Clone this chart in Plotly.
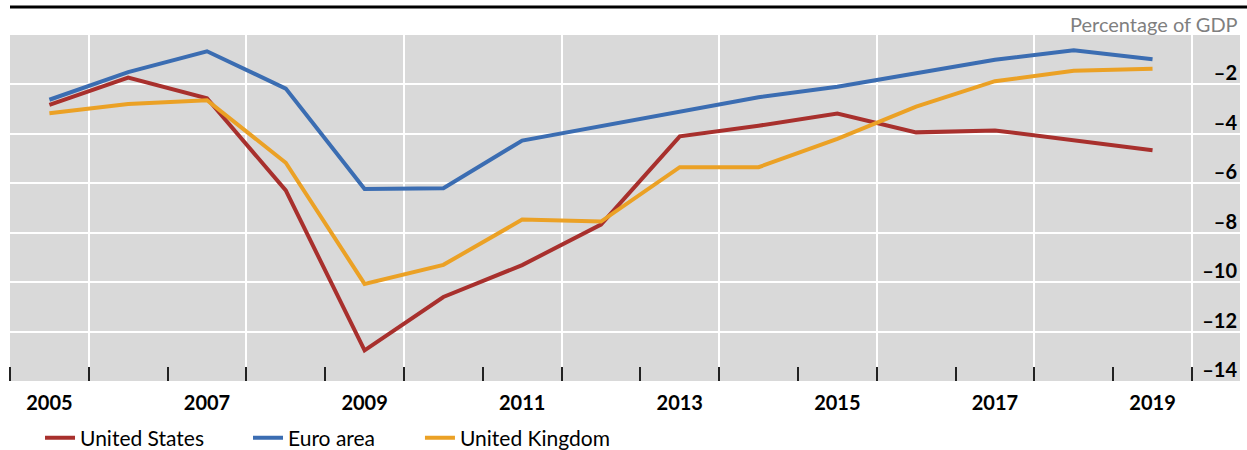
import plotly.graph_objects as go

years = list(range(2005, 2020))
united_states = [-2.83, -1.72, -2.56, -6.29, -12.76, -10.6, -9.31, -7.67, -4.1, -3.67, -3.18, -3.94, -3.86, -4.27, -4.66]
euro_area = [-2.62, -1.5, -0.66, -2.17, -6.23, -6.2, -4.27, -3.68, -3.07, -2.52, -2.09, -1.56, -1.0, -0.62, -0.98]
united_kingdom = [-3.17, -2.79, -2.64, -5.17, -10.07, -9.3, -7.47, -7.55, -5.35, -5.35, -4.2, -2.9, -1.87, -1.45, -1.37]

series_names = ["United States", "Euro area", "United Kingdom"]
series_values = [united_states, euro_area, united_kingdom]
series_colors = ["#A8302D", "#3B6DB2", "#EBA125"]
legend_ids = ["legend", "legend2", "legend3"]
legend_x = [0.0244, 0.1935, 0.3333]

y_tickvals = [-2, -4, -6, -8, -10, -12, -14]
y_ticktext = ["–2", "–4", "–6", "–8", "–10", "–12", "–14"]
x_label_years = list(range(2005, 2020, 2))

FONT = "Lato"

fig = go.Figure()
for name, vals, col, lg in zip(series_names, series_values, series_colors, legend_ids):
    fig.add_trace(go.Scatter(x=years, y=vals, name=name, mode="lines", legend=lg,
                             line=dict(color=col, width=4), hoverinfo="skip"))

# invisible trace to carry the grid axis
fig.add_trace(go.Scatter(x=years, y=united_states, xaxis="x2", mode="lines",
                         line=dict(width=0), showlegend=False, hoverinfo="skip"))

legend_common = dict(orientation="h", xanchor="left", y=-0.165, yanchor="middle",
                     font=dict(family=FONT, size=21, color="black"),
                     bgcolor="rgba(0,0,0,0)", itemwidth=30)

fig.update_layout(
    width=1247, height=450,
    margin=dict(l=10, r=7, t=35, b=69, autoexpand=False),
    paper_bgcolor="white",
    plot_bgcolor="#D9D9D9",
    font=dict(family=FONT, color="black", size=20),
    xaxis=dict(
        range=[2004.5, 2020.11],
        tickmode="array", tickvals=x_label_years,
        ticktext=[str(y) for y in x_label_years],
        ticks="", showgrid=False, zeroline=False, showline=False,
        tickfont=dict(family=FONT, size=20, color="black", weight="bold"),
        ticklabelstandoff=8,
        minor=dict(tick0=2004.5, dtick=1, ticks="inside", ticklen=14,
                   tickwidth=2, tickcolor="#222222", showgrid=False),
    ),
    xaxis2=dict(
        overlaying="x", matches="x", anchor="y",
        tickmode="linear", tick0=2005.5, dtick=2,
        showgrid=True, gridcolor="white", gridwidth=2,
        showticklabels=False, ticks="", zeroline=False, showline=False,
    ),
    yaxis=dict(
        range=[-14, 0], side="right", ticklabelposition="inside",
        tickmode="array", tickvals=y_tickvals, ticktext=y_ticktext,
        showgrid=True, gridcolor="white", gridwidth=2,
        zeroline=False, showline=False, ticks="",
        ticklabelshift=-11,
        tickfont=dict(family=FONT, size=20, color="black", weight="bold"),
    ),
    legend=dict(x=legend_x[0], **legend_common),
    legend2=dict(x=legend_x[1], **legend_common),
    legend3=dict(x=legend_x[2], **legend_common),
    shapes=[dict(type="line", xref="paper", yref="paper", x0=0, x1=1.006,
                 y0=1.081, y1=1.081, line=dict(color="black", width=3))],
    annotations=[dict(text="Percentage of GDP", xref="paper", yref="paper",
                      x=1, y=1.032, xanchor="right", yanchor="middle",
                      showarrow=False,
                      font=dict(family=FONT, size=20, color="#7F7F7F"))],
)

fig.write_html("out.html")
